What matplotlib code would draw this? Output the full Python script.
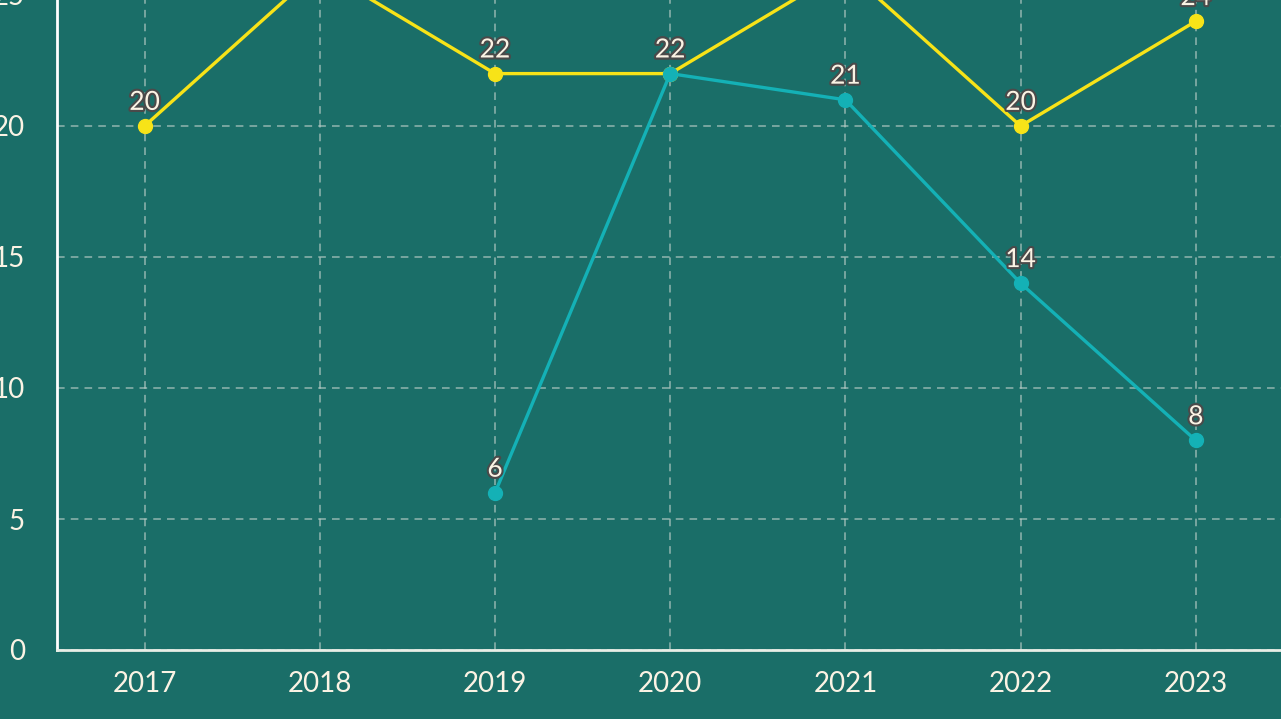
import matplotlib
matplotlib.use("Agg")
import matplotlib.pyplot as plt
import matplotlib.patheffects as pe

years = ["2017", "2018", "2019", "2020", "2021", "2022", "2023"]
series_yellow = [20, 26, 22, 22, 26, 20, 24]
series_teal = [None, None, 6, 22, 21, 14, 8]
y_ticks = [0, 5, 10, 15, 20, 25, 30]

BG = "#1a6e68"
YELLOW = "#f7e318"
TEAL = "#14b1b6"
TXT = "#fbf3e4"
GRID = "#b9cdc6"

plt.rcParams['font.family'] = ['Lato', 'DejaVu Sans']

W, H = 1281, 719
fig = plt.figure(figsize=(W / 100, H / 100), dpi=100, facecolor=BG)
# axes extends beyond the visible figure (cropped look)
left_px, bottom_px = 57, 69
unit = 26.2
ymax = 30
height_px = unit * ymax
width_px = 175.2 * 7
ax = fig.add_axes([left_px / W, bottom_px / H, width_px / W, height_px / H])
ax.set_facecolor(BG)

x = list(range(len(years)))
ax.plot(x, series_yellow, color=YELLOW, lw=2.4, marker='o', ms=10, zorder=3, clip_on=False)
tx = [i for i, v in zip(x, series_teal) if v is not None]
tv = [v for v in series_teal if v is not None]
ax.plot(tx, tv, color=TEAL, lw=2.4, marker='o', ms=10, zorder=4, clip_on=False)

effects = [pe.withStroke(linewidth=3, foreground="#4a4a4a")]
for xi, v in zip(x, series_yellow):
    ax.annotate(str(v), (xi, v), xytext=(0, 8), textcoords='offset points',
                ha='center', va='bottom', fontsize=19, color=TXT,
                path_effects=effects, zorder=6)
for xi, v in zip(tx, tv):
    ax.annotate(str(v), (xi, v), xytext=(0, 8), textcoords='offset points',
                ha='center', va='bottom', fontsize=19, color=TXT,
                path_effects=effects, zorder=6)

ax.set_xlim(-0.5, len(years) - 0.5)
ax.set_ylim(0, ymax)
ax.set_xticks(x)
ax.set_xticklabels(years)
ax.set_yticks(y_ticks)
ax.tick_params(axis='both', length=0, colors=TXT, labelsize=20)
ax.tick_params(axis='x', pad=15)
ax.tick_params(axis='y', pad=23)
ax.grid(True, color=GRID, linestyle=(0, (5, 4)), lw=1.1, alpha=0.75)
ax.set_axisbelow(True)
for s in ['top', 'right']:
    ax.spines[s].set_visible(False)
ax.spines['left'].set_color('#ffffff')
ax.spines['left'].set_linewidth(2)
ax.spines['bottom'].set_color('#e8eee6')
ax.spines['bottom'].set_linewidth(2)

fig.savefig("out.png", dpi=100, facecolor=BG)
